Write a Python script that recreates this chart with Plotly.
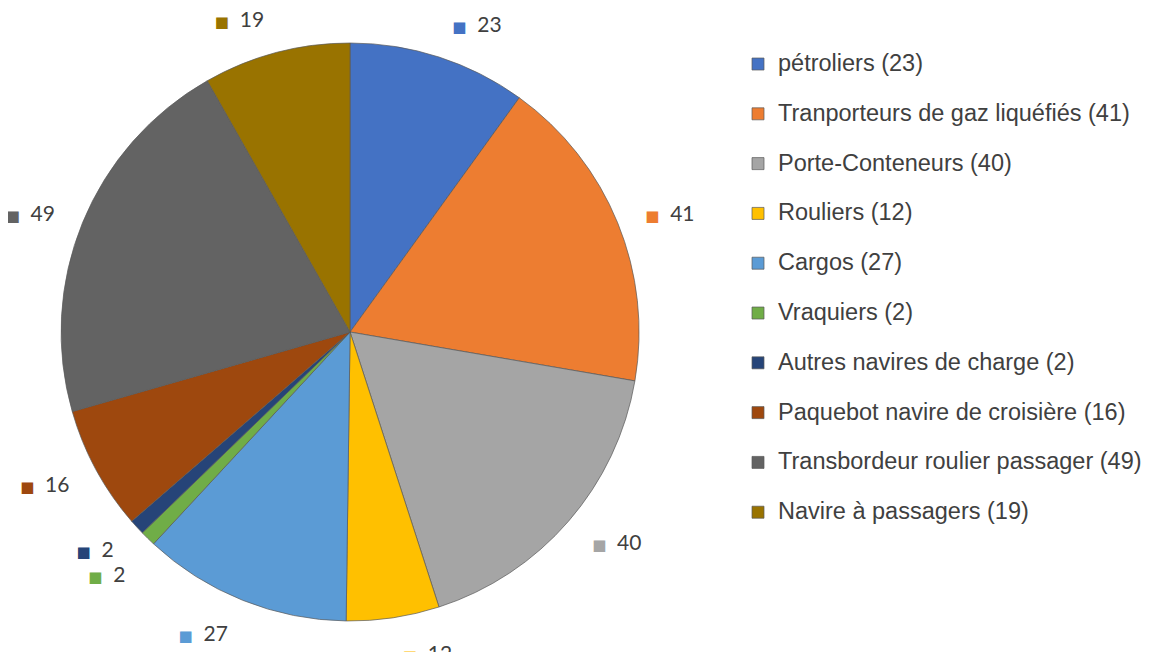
import plotly.graph_objects as go

categories = ["pétroliers", "Tranporteurs de gaz liquéfiés", "Porte-Conteneurs", "Rouliers",
              "Cargos", "Vraquiers", "Autres navires de charge", "Paquebot navire de croisière",
              "Transbordeur roulier passager", "Navire à passagers"]
values = [23, 41, 40, 12, 27, 2, 2, 16, 49, 19]
colors = ["#4472C4", "#ED7D31", "#A5A5A5", "#FFC000", "#5B9BD5",
          "#70AD47", "#264478", "#9E480E", "#636363", "#997300"]

pad_line = "&nbsp;" * 75
legend_labels = [f"<span style='font-size:23.5px'>{c} ({v})</span><br>{pad_line}"
                 for c, v in zip(categories, values)]

# visible pie (no text)
pie_main = go.Pie(
    labels=legend_labels,
    values=values,
    sort=False,
    direction="clockwise",
    rotation=0,
    marker=dict(colors=colors, line=dict(color="rgba(90,90,90,0.7)", width=1)),
    textinfo="none",
    automargin=False,
    domain=dict(x=[0.0461, 0.5483], y=[0.0598, 0.9463]),
    hoverinfo="label+value",
)

# transparent outer pie carrying the data labels (places them a bit further out)
pie_labels = go.Pie(
    labels=legend_labels,
    values=values,
    customdata=colors,
    sort=False,
    direction="clockwise",
    rotation=0,
    marker=dict(colors=["rgba(0,0,0,0)"] * len(values), line=dict(width=0)),
    textposition="outside",
    texttemplate=("<span style='font-family:DejaVu Sans;font-size:15px;color:%{customdata}'>■</span>"
                  "&nbsp;&nbsp;<span style='color:#404040'>%{value}</span>"),
    textfont=dict(family="Lato, Open Sans", size=21, color="white"),
    automargin=False,
    domain=dict(x=[0.0261, 0.5683], y=[0.0245, 0.9816]),
    hoverinfo="skip",
    showlegend=False,
)

fig = go.Figure([pie_main, pie_labels])

fig.update_layout(
    width=1151, height=652,
    margin=dict(l=0, r=0, t=0, b=0, autoexpand=False),
    paper_bgcolor="white",
    showlegend=True,
    legend=dict(
        x=1.0, y=0.942, xanchor="right", yanchor="top",
        font=dict(family="Liberation Sans, Arial", size=18, color="#404040"),
        valign="top",
        itemwidth=30,
        bgcolor="rgba(0,0,0,0)",
    ),
)

fig.write_html("out.html")
